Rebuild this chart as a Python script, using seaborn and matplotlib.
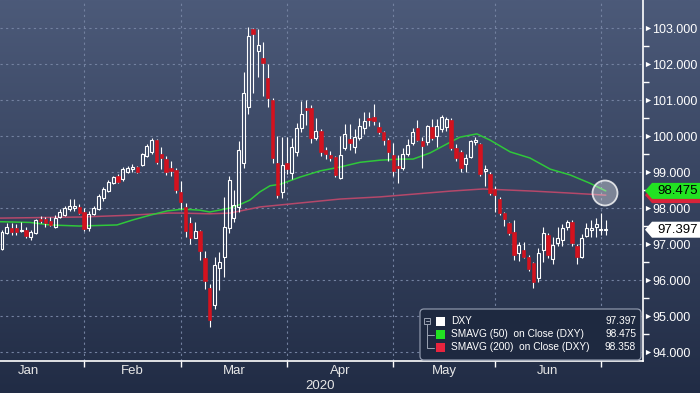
import numpy as np
import pandas as pd
import matplotlib
matplotlib.use("Agg")
import matplotlib.pyplot as plt
import seaborn as sns
from matplotlib.patches import Rectangle, FancyBboxPatch, Polygon, Circle

# DXY daily candles, ~Jan 9 2020 .. Jul 2 2020
opens = [96.86, 97.31, 97.44, 97.44, 97.36, 97.39, 97.19, 97.31, 97.69, 97.69,
         97.64, 97.47, 97.75, 97.80, 97.97, 98.00, 98.03, 97.89, 97.44, 97.83,
         97.97, 98.28, 98.47, 98.69, 98.89, 98.81, 99.00, 99.08, 99.14, 99.19,
         99.44, 99.56, 99.89, 99.50, 99.36, 99.11, 99.06, 98.44, 98.03, 97.58,
         97.17, 97.36, 96.61, 95.78, 95.31, 96.33, 96.64, 97.44, 97.72, 98.03,
         99.25, 100.80, 102.97, 102.36, 102.17, 101.61, 101.00, 99.25, 98.44, 99.25,
         98.97, 99.56, 100.22, 100.78, 100.78, 99.94, 100.14, 99.61, 99.47, 99.42,
         98.83, 99.67, 99.92, 99.69, 99.94, 100.22, 100.50, 100.53, 100.25, 100.11,
         99.89, 99.47, 99.17, 99.11, 99.50, 99.80, 100.22, 99.86, 99.83, 100.25,
         100.00, 100.19, 100.25, 100.44, 99.67, 99.56, 99.22, 99.42, 99.83, 99.78,
         99.03, 98.94, 98.53, 98.25, 97.86, 97.58, 97.33, 96.75, 96.83, 96.64,
         96.47, 96.06, 96.83, 97.25, 96.58, 97.03, 97.11, 97.47, 97.61, 96.94,
         96.64, 97.22, 97.39, 97.47, 97.40, 97.38]
highs = [97.40, 97.58, 97.58, 97.55, 97.60, 97.47, 97.40, 97.70, 97.78, 97.75,
         97.75, 97.80, 97.97, 98.05, 98.25, 98.25, 98.10, 98.00, 97.92, 98.05,
         98.38, 98.58, 98.78, 98.90, 98.94, 99.14, 99.17, 99.22, 99.17, 99.53,
         99.78, 99.94, 99.92, 99.70, 99.44, 99.30, 99.10, 98.75, 98.14, 97.75,
         97.60, 97.40, 96.80, 95.90, 96.65, 96.78, 98.31, 98.90, 98.50, 99.86,
         101.78, 103.03, 103.00, 102.97, 102.60, 102.00, 101.05, 100.00, 99.97, 99.97,
         99.95, 100.35, 100.97, 101.00, 100.85, 100.50, 100.20, 99.70, 99.58, 99.45,
         100.00, 100.33, 100.33, 100.20, 100.50, 100.67, 100.67, 100.89, 100.40, 100.15,
         99.95, 99.80, 99.47, 99.67, 99.92, 100.22, 100.44, 99.97, 100.30, 100.47,
         100.47, 100.58, 100.53, 100.50, 99.78, 99.60, 99.50, 99.90, 99.97, 99.80,
         99.20, 99.00, 98.60, 98.30, 97.90, 97.62, 97.67, 97.06, 97.06, 96.70,
         96.50, 96.89, 97.47, 97.30, 97.20, 97.47, 97.55, 97.67, 97.67, 97.00,
         97.28, 97.58, 97.67, 97.72, 97.86, 97.67]
lows = [96.84, 97.28, 97.25, 97.25, 97.33, 97.17, 97.12, 97.28, 97.58, 97.47,
        97.50, 97.45, 97.72, 97.77, 97.92, 97.92, 97.83, 97.36, 97.36, 97.80,
        97.94, 98.20, 98.44, 98.67, 98.69, 98.75, 98.97, 99.00, 98.97, 99.17,
        99.42, 99.50, 99.22, 99.08, 98.92, 98.90, 98.42, 97.97, 97.20, 97.00,
        97.17, 96.55, 95.75, 94.69, 95.20, 95.72, 96.08, 97.30, 97.60, 97.90,
        99.10, 100.60, 101.20, 101.64, 101.10, 100.80, 99.25, 98.28, 98.28, 98.95,
        98.80, 99.45, 100.10, 100.30, 99.80, 99.90, 99.44, 99.36, 99.30, 98.85,
        98.80, 99.60, 99.60, 99.53, 99.90, 100.05, 100.28, 100.30, 100.05, 99.75,
        99.30, 98.88, 98.70, 99.05, 99.45, 99.75, 99.85, 99.11, 99.75, 99.90,
        99.70, 100.10, 100.15, 99.60, 99.30, 99.00, 99.00, 99.38, 99.75, 98.90,
        98.60, 98.35, 97.90, 97.80, 97.50, 97.25, 96.55, 96.53, 96.60, 96.25,
        95.78, 95.95, 96.50, 96.60, 96.45, 96.95, 96.95, 97.40, 96.95, 96.44,
        96.60, 97.20, 97.20, 97.20, 97.25, 97.25]
closes = [97.33, 97.47, 97.33, 97.33, 97.40, 97.22, 97.33, 97.67, 97.64, 97.58,
          97.53, 97.72, 97.89, 98.00, 98.06, 98.06, 97.86, 97.42, 97.83, 98.00,
          98.33, 98.53, 98.72, 98.86, 98.72, 99.08, 99.11, 99.14, 99.00, 99.50,
          99.72, 99.89, 99.28, 99.39, 99.00, 99.03, 98.50, 98.17, 97.36, 97.17,
          97.36, 96.81, 95.97, 94.89, 96.42, 96.50, 97.47, 98.78, 98.08, 99.60,
          101.19, 102.78, 102.83, 102.53, 102.03, 101.06, 99.39, 98.36, 99.19, 99.08,
          99.69, 100.22, 100.61, 100.72, 99.94, 100.14, 99.56, 99.50, 99.39, 98.92,
          99.47, 100.06, 99.80, 99.97, 100.28, 100.42, 100.45, 100.42, 100.11, 99.89,
          99.56, 99.03, 99.12, 99.50, 99.75, 100.11, 99.89, 99.72, 100.28, 99.94,
          100.28, 100.53, 100.47, 99.67, 99.39, 99.11, 99.39, 99.86, 99.89, 98.94,
          99.08, 98.42, 98.36, 97.86, 97.69, 97.30, 96.69, 96.97, 96.64, 96.31,
          95.94, 96.75, 97.31, 96.69, 96.97, 97.17, 97.44, 97.61, 97.03, 96.64,
          97.17, 97.44, 97.44, 97.55, 97.42, 97.397]

# moving averages, read at points along the lines (x = candle index)
sma50_idx = [-0.4, 5.8, 9.9, 16.0, 23.8, 27.1, 30.6, 34.2, 37.5, 41.0, 43.0, 47.2,
             49.3, 51.3, 53.4, 55.5, 57.6, 61.7, 65.8, 70.0, 74.1, 78.3, 82.4,
             85.1, 88.6, 92.8, 94.8, 98.3, 101.0, 105.2, 109.3, 113.5, 117.6,
             121.7, 125.0]
sma50_val = [97.62, 97.60, 97.53, 97.50, 97.53, 97.67, 97.80, 97.92, 97.97, 97.94,
             97.89, 98.00, 98.10, 98.22, 98.45, 98.62, 98.66, 98.86, 99.03, 99.14,
             99.27, 99.33, 99.36, 99.36, 99.53, 99.83, 99.97, 100.06, 99.89, 99.56,
             99.39, 99.08, 98.92, 98.69, 98.475]
sma200_idx = [-0.4, 16.2, 26.5, 34.5, 37.0, 43.0, 47.2, 53.4, 61.7, 70.0, 78.3,
              92.8, 99.6, 110.0, 117.0, 125.0]
sma200_val = [97.72, 97.75, 97.80, 97.86, 97.86, 97.84, 97.86, 98.03, 98.14, 98.25,
              98.31, 98.47, 98.53, 98.47, 98.42, 98.358]

month_names = ["Jan", "Feb", "Mar", "Apr", "May", "Jun"]
month_starts = [17, 37, 59, 81, 102, 124]
month_mids = [5.5, 27, 48, 70, 91.5, 113]
y_ticks = [94, 95, 96, 97, 98, 99, 100, 101, 102, 103]

last_dxy, last_sma50, last_sma200 = 97.397, 98.475, 98.358

sns.set_theme(style="dark")
plt.rcParams['font.family'] = ['Liberation Sans', 'DejaVu Sans']

W, H = 700, 393
fig = plt.figure(figsize=(7, 3.93), dpi=100)

# background gradient over the whole figure
bg = fig.add_axes([0, 0, 1, 1], zorder=-5)
top = np.array([0x4c, 0x5a, 0x79]) / 255
bot = np.array([0x21, 0x2c, 0x45]) / 255
t = np.linspace(0, 1, 256)[:, None]
grad = top[None, :] * (1 - t) + bot[None, :] * t
bg.imshow(grad[:, None, :], aspect='auto', extent=[0, 1, 0, 1])
bg.set_axis_off()

ax = fig.add_axes([0, (H - 361) / H, 643 / W, 361 / H])
ax.set_facecolor('none')

df = pd.DataFrame({'o': opens, 'h': highs, 'l': lows, 'c': closes})
df['i'] = np.arange(len(df))
df['up'] = df['c'] >= df['o']
df['bot'] = df[['o', 'c']].min(axis=1)
df['top'] = df[['o', 'c']].max(axis=1)
df['hgt'] = (df['top'] - df['bot']).clip(lower=0.03)

# moving averages
sns.lineplot(data=pd.DataFrame({'i': sma200_idx, 'v': sma200_val}), x='i', y='v',
             color='#b5486a', linewidth=1.1, ax=ax, zorder=2)
sns.lineplot(data=pd.DataFrame({'i': sma50_idx, 'v': sma50_val}), x='i', y='v',
             color='#2fc83a', linewidth=1.1, ax=ax, zorder=2)

# wicks (split around body so hollow candles stay hollow)
ax.vlines(df['i'], df['l'], df['bot'], color='white', lw=0.8, zorder=3)
ax.vlines(df['i'], df['bot'] + df['hgt'], df['h'], color='white', lw=0.8, zorder=3)
up = df[df['up']]
dn = df[~df['up']]
ax.bar(up['i'], up['hgt'], bottom=up['bot'], width=0.62, facecolor='none',
       edgecolor='white', linewidth=0.8, zorder=4)
ax.bar(dn['i'], dn['hgt'], bottom=dn['bot'], width=0.72, facecolor='#d4121e',
       edgecolor='#d4121e', linewidth=0.4, zorder=4)

ax.set_xlim(-0.414, 132.7)
ax.set_ylim(93.75, 103.78)
ax.set_xlabel('')
ax.set_ylabel('')

# grid
for m in month_starts:
    ax.axvline(m, color='#7381a0', lw=0.8, ls=(0, (2, 3)), zorder=1)
for v in y_ticks:
    ax.axhline(v, color='#7381a0', lw=0.8, ls=(0, (2, 3)), zorder=1)
ax.grid(False)

for s in ['top', 'left']:
    ax.spines[s].set_visible(False)
for s in ['right', 'bottom']:
    ax.spines[s].set_color('white')
    ax.spines[s].set_linewidth(1.2)

ax.yaxis.tick_right()
ax.set_yticks(y_ticks)
ax.set_yticklabels(['%.3f' % v for v in y_ticks])
ax.set_yticks([v + 0.5 for v in y_ticks[:-1]], minor=True)
ax.tick_params(axis='y', which='major', length=0, pad=6.5, labelsize=9,
               labelcolor='white')
ax.tick_params(axis='y', which='minor', length=4, width=1, color='white',
               direction='out', right=True, left=False)
ax.scatter([1.007] * len(y_ticks), y_ticks, marker='>', s=14, color='white',
           transform=ax.get_yaxis_transform(), clip_on=False, zorder=6,
           linewidths=0)

ax.set_xticks(month_starts)
ax.set_xticklabels([])
ax.tick_params(axis='x', which='major', length=4, width=1, color='white',
               direction='out', bottom=True)
for name, mx in zip(month_names, month_mids):
    ax.text(mx, -0.028, name, transform=ax.get_xaxis_transform(), ha='center',
            va='center', color='#e6e6e6', fontsize=9.5)
fig.text(320 / W, 1 - 386 / H, '2020', ha='center', va='center',
         color='#e6e6e6', fontsize=9.5)

# helper: pixel coords -> inches for dpi_scale_trans
tr = fig.dpi_scale_trans
def P(x, y):
    return (x / 100, (H - y) / 100)

# highlight circle around the crossover
fig.add_artist(Circle(P(605, 193), 0.125, transform=tr, facecolor=(1, 1, 1, 0.35),
                      edgecolor=(1, 1, 1, 0.8), lw=1.3, zorder=7))

# right-side value flags
def flag(yc, face, txt, tcolor='black'):
    pts = [P(645, yc), P(652, yc - 8), P(700, yc - 8), P(700, yc + 8), P(652, yc + 8)]
    fig.add_artist(Polygon(pts, closed=True, transform=tr, facecolor=face,
                           edgecolor='none', zorder=8))
    if txt:
        fig.text(657 / W, 1 - yc / H, txt, ha='left', va='center',
                 color=tcolor, fontsize=9.5, zorder=9)

def ypix(v):
    return 28 + (103 - v) * 36

flag(ypix(last_sma200), '#d8243a', None)
flag(ypix(last_sma50), '#22e222', '%.3f' % last_sma50)
flag(ypix(last_dxy), 'white', '%.3f' % last_dxy)

# legend box
fig.add_artist(FancyBboxPatch(P(420, 360), 2.21, 0.51, boxstyle='round,pad=0,rounding_size=0.04',
                              transform=tr, facecolor='#1e2940', edgecolor='#8d96aa',
                              lw=0.9, zorder=8))
# tree icon
fig.add_artist(Rectangle(P(424, 324), 0.06, 0.06, transform=tr, facecolor='none',
                         edgecolor='#9aa2b2', lw=0.7, zorder=9))
fig.add_artist(plt.Line2D([4.255, 4.285], [(H - 321) / 100] * 2, transform=tr,
                          color='#9aa2b2', lw=0.7, zorder=9))
fig.add_artist(plt.Line2D([4.27, 4.27, 4.34], [(H - 324) / 100, (H - 348) / 100, (H - 348) / 100],
                          transform=tr, color='#9aa2b2', lw=0.7, zorder=9))
fig.add_artist(plt.Line2D([4.27, 4.34], [(H - 335) / 100] * 2, transform=tr,
                          color='#9aa2b2', lw=0.7, zorder=9))

leg_rows = [('DXY', 'white', last_dxy, 321),
            ('SMAVG (50)  on Close (DXY)', '#22e222', last_sma50, 334),
            ('SMAVG (200)  on Close (DXY)', '#e8243e', last_sma200, 347)]
for label, col, val, yy in leg_rows:
    fig.add_artist(Rectangle(P(436, yy + 5), 0.09, 0.095, transform=tr,
                             facecolor=col, edgecolor='none', zorder=9))
    fig.text(451 / W, 1 - yy / H, label, ha='left', va='center', color='white',
             fontsize=7.3, zorder=9)
    fig.text(636 / W, 1 - yy / H, '%.3f' % val, ha='right', va='center',
             color='white', fontsize=7.3, zorder=9)

fig.savefig('out.png', dpi=100)
